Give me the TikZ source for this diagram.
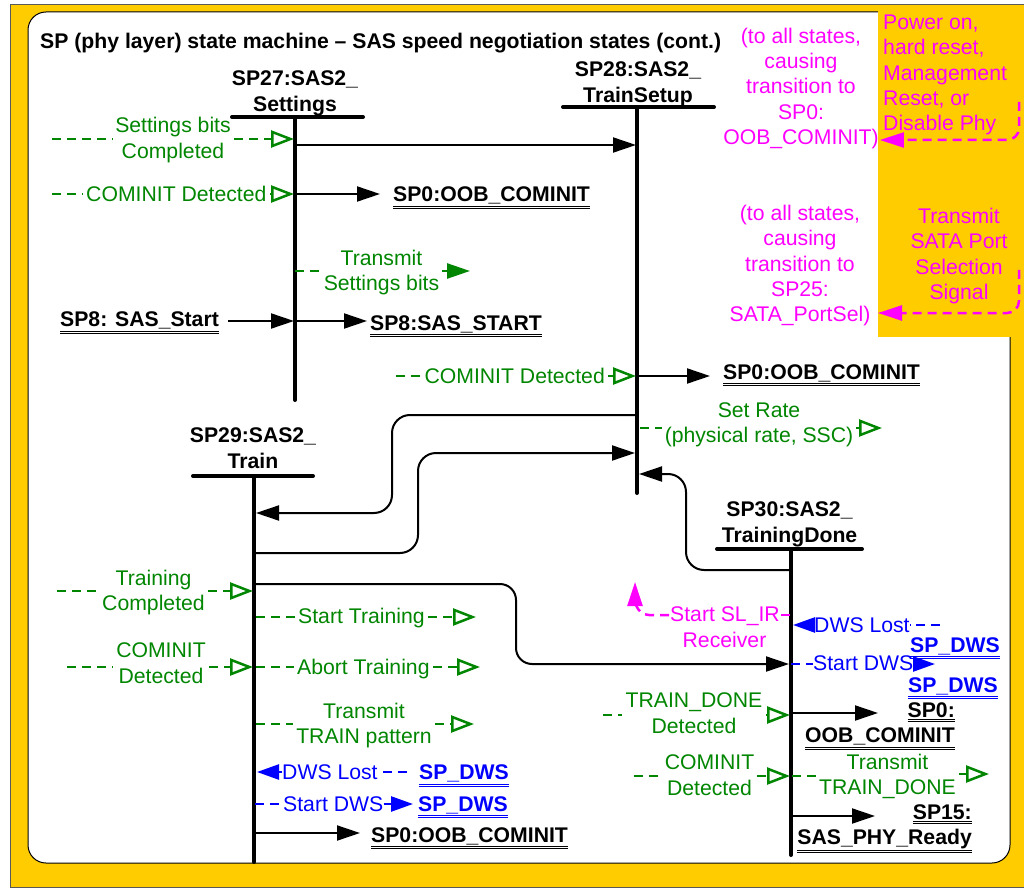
\documentclass[tikz,border=0pt]{standalone}
\usepackage{fontspec}
\setmainfont{Liberation Sans}
\usetikzlibrary{arrows.meta}
\definecolor{gold}{RGB}{255,204,0}
\definecolor{sgreen}{RGB}{0,134,0}
\definecolor{sblue}{RGB}{0,0,255}
\definecolor{smag}{RGB}{255,0,255}
\newcommand\fsz{\fontsize{21.2}{25.3}\selectfont}
\newcommand\dul[1]{\vtop{\hbox{#1}\kern1.4pt\hrule height1.1pt\kern1.1pt\hrule height0.9pt}}
\tikzset{
  every node/.style={font=\fsz, inner sep=0pt},
  lbl/.style={font=\fsz\bfseries, align=center},
  stref/.style={font=\fsz\bfseries},
  statebar/.style={line width=4pt, line cap=round},
  trans/.style={line width=2pt, -{Triangle[length=23pt,width=15pt]}},
  gtxt/.style={text=sgreen, align=center, inner xsep=3pt},
  btxt/.style={text=sblue, inner xsep=0pt},
  mtxt/.style={text=smag, align=center, inner xsep=1pt},
  dsh/.style={line width=2.5pt, dash pattern=on 9pt off 6pt},
  gdash/.style={dsh, sgreen},
  gopen/.style={gdash, -{Triangle[open, length=23pt, width=17pt, line width=2.5pt]}},
  gfill/.style={gdash, -{Triangle[length=23pt, width=15pt]}},
  bdash/.style={dsh, sblue},
  bfill/.style={bdash, -{Triangle[length=22pt, width=15pt]}},
  mdash/.style={dsh, smag},
  mfill/.style={mdash, -{Triangle[length=24pt, width=15pt]}},
}
\begin{document}
\begin{tikzpicture}[x=1pt,y=-1pt]
\useasboundingbox (0,0) rectangle (1024,890);
% frames
\fill[gold] (10,5) rectangle (1030,887);
\draw[gray!70!black, line width=1pt] (1030,5) -- (10,5) -- (10,887) -- (1030,887);
\filldraw[fill=white, draw=black, line width=1pt, rounded corners=18pt] (28,12) rectangle (1010,863);
\fill[gold] (878,6) rectangle (1024,337);
% title
\node[font=\fsz\bfseries, anchor=base west] (title) at (40,49) {SP (phy layer) state machine – SAS speed negotiation states (cont.)};
% states
\node[lbl] (s27) at (295,93.4) {SP27:SAS2\_\\Settings};
\coordinate (s27l) at (232,117); \coordinate (s27r) at (363,117);
\coordinate (s27t) at (295,117); \coordinate (s27b) at (295,400);
\draw[statebar] (s27l) -- (s27r); \draw[statebar] (s27t) -- (s27b);
\node[lbl] (s28) at (638,84.4) {SP28:SAS2\_\\TrainSetup};
\coordinate (s28l) at (563,107); \coordinate (s28r) at (714,107);
\coordinate (s28t) at (637,107); \coordinate (s28bt) at (637,493);
\draw[statebar] (s28l) -- (s28r); \draw[statebar] (s28t) -- (s28bt);
\node[lbl] (s29) at (253,448.2) {SP29:SAS2\_\\Train};
\coordinate (s29l) at (193,476); \coordinate (s29r) at (313,476);
\coordinate (s29t) at (254,476); \coordinate (s29bt) at (254,862);
\draw[statebar] (s29l) -- (s29r); \draw[statebar] (s29t) -- (s29bt);
\node[lbl] (s30) at (789.5,524.4) {SP30:SAS2\_\\TrainingDone};
\coordinate (s30l) at (717,549); \coordinate (s30r) at (862,549);
\coordinate (s30t) at (791,549); \coordinate (s30bt) at (791,855);
\draw[statebar] (s30l) -- (s30r); \draw[statebar] (s30t) -- (s30bt);
% ---- SP27 transitions
\node[gtxt] (t1) at (173,139.9) {Settings bits\\Completed};
\coordinate (t1s) at (52,139); \coordinate (s27a) at (294,139);
\draw[gdash] (t1s) -- (t1.west |- t1s);
\draw[gopen] (t1.east |- t1s) -- (s27a);
\coordinate (s27c) at (295,145); \coordinate (s28a) at (636,145);
\draw[trans] (s27c) -- (s28a);
\node[gtxt, anchor=base west] (t2) at (83,202) {COMINIT Detected};
\coordinate (t2s) at (52,194); \coordinate (s27d) at (294,194);
\draw[gdash] (t2s) -- (t2.west |- t2s);
\draw[gopen] (t2.east |- t2s) -- (s27d);
\node[stref, anchor=base west] (r1) at (393,202) {\dul{SP0:OOB\_COMINIT}};
\draw[trans, shorten >=13pt] (s27d) -- (r1.west |- s27d);
\node[gtxt] (t3) at (381.5,272.4) {Transmit\\Settings bits};
\coordinate (s27e) at (295,271); \coordinate (t3e) at (470,271);
\draw[gdash] (s27e) -- (t3.west |- s27e);
\draw[gfill] (t3.east |- s27e) -- (t3e);
\node[stref, anchor=base west] (r2) at (60,326.8) {\dul{SP8: SAS\_Start}};
\coordinate (s27f) at (294,321);
\draw[trans, shorten <=9pt] (r2.east |- s27f) -- (s27f);
\node[stref, anchor=base west] (r3) at (370,330) {\dul{SP8:SAS\_START}};
\draw[trans, shorten >=3pt] (s27f) -- (r3.west |- s27f);
% ---- SP28 transitions
\node[gtxt, anchor=base east] (t4) at (608,383) {COMINIT Detected};
\coordinate (t4s) at (396,376); \coordinate (s28b) at (636,376);
\draw[gdash] (t4s) -- (t4.west |- t4s);
\draw[gopen] (t4.east |- t4s) -- (s28b);
\node[stref, anchor=base west] (r4) at (723,379) {\dul{SP0:OOB\_COMINIT}};
\draw[trans, shorten >=13pt] (s28b) -- (r4.west |- s28b);
\node[gtxt] (t5) at (759,425.1) {Set Rate\\(physical rate, SSC)};
\coordinate (s28c) at (640,428); \coordinate (t5e) at (882,428);
\draw[gdash] (s28c) -- (t5.west |- s28c);
\draw[gopen] (t5.east |- s28c) -- (t5e);
% routed transitions
\coordinate (s28d) at (637,415); \coordinate (s29a) at (256,513);
\draw[trans, rounded corners=18pt] (s28d) -- (392,415) -- (392,513) -- (s29a);
\coordinate (s29b) at (254,553); \coordinate (s28e) at (635,453);
\draw[trans, rounded corners=18pt] (s29b) -- (418,553) -- (418,453) -- (s28e);
\coordinate (s30a) at (791,570); \coordinate (s28f) at (639,474);
\draw[trans, rounded corners=18pt] (s30a) -- (686,570) -- (686,474) -- (s28f);
\coordinate (s29c) at (254,584); \coordinate (s30b) at (789,664);
\draw[trans, rounded corners=16pt] (s29c) -- (516,584) -- (516,664) -- (s30b);
% ---- SP29 transitions
\node[gtxt] (t6) at (153.5,592.4) {Training\\Completed};
\coordinate (t6s) at (57,591); \coordinate (s29d) at (253,591);
\draw[gdash] (t6s) -- (t6.west |- t6s); \draw[gopen] (t6.east |- t6s) -- (s29d);
\node[gtxt, anchor=base west] (t7) at (295,623) {Start Training};
\coordinate (s29e) at (256,617); \coordinate (t7e) at (476,617);
\draw[gdash] (s29e) -- (t7.west |- s29e); \draw[gopen] (t7.east |- s29e) -- (t7e);
\node[gtxt] (t8) at (161,663.2) {COMINIT\\Detected};
\coordinate (t8s) at (67,667); \coordinate (s29f) at (253,667);
\draw[gdash] (t8s) -- (t8.west |- t8s); \draw[gopen] (t8.east |- t8s) -- (s29f);
\node[gtxt, anchor=base west] (t9) at (294,674) {Abort Training};
\coordinate (s29g) at (256,667); \coordinate (t9e) at (480,667);
\draw[gdash] (s29g) -- (t9.west |- s29g); \draw[gopen] (t9.east |- s29g) -- (t9e);
\node[gtxt] (t10) at (364,725.4) {Transmit\\TRAIN pattern};
\coordinate (s29h) at (256,724); \coordinate (t10e) at (474,724);
\draw[gdash] (s29h) -- (t10.west |- s29h); \draw[gopen] (t10.east |- s29h) -- (t10e);
\node[btxt, anchor=base west] (t11) at (282,779) {DWS Lost};
\node[stref, text=sblue, anchor=base west] (r5) at (419,779.6) {\dul{SP\_DWS}};
\coordinate (s29i) at (257,772);
\draw[bdash, shorten <=12pt] (r5.west |- s29i) -- (t11.east |- s29i);
\draw[bfill] (t11.west |- s29i) -- (s29i);
\node[btxt, anchor=base west] (t12) at (283,811) {Start DWS};
\node[stref, text=sblue, anchor=base west] (r6) at (418,811) {\dul{SP\_DWS}};
\coordinate (s29j) at (255,804);
\draw[bdash] (s29j) -- (t12.west |- s29j);
\draw[bfill, shorten >=5pt] (t12.east |- s29j) -- (r6.west |- s29j);
\node[stref, anchor=base west] (r7) at (371,842) {\dul{SP0:OOB\_COMINIT}};
\coordinate (s29k) at (254,833);
\draw[trans, shorten >=11pt] (s29k) -- (r7.west |- s29k);
% ---- SP30 transitions
\node[mtxt, anchor=base west] (t13) at (669,621) {Start SL\_IR};
\node[mtxt, anchor=base] (t13b) at (724.5,647) {Receiver};
\coordinate (s30c) at (790,615); \coordinate (mup) at (635,582);
\draw[mdash] (s30c) -- (t13.east |- s30c);
\draw[mfill] (t13.west |- s30c) -- (649,615) to[out=180,in=-90] (mup);
\node[btxt, anchor=base west] (t14) at (814,632) {DWS Lost};
\coordinate (s30d) at (793,625); \coordinate (b3e) at (940,625);
\draw[bdash] (b3e) -- (t14.east |- b3e);
\draw[bfill] (t14.west |- b3e) -- (s30d);
\node[stref, text=sblue, anchor=base west] (r8) at (910,652) {\dul{SP\_DWS}};
\node[btxt, anchor=base west] (t15) at (813,670) {Start DWS};
\coordinate (s30e) at (791,664); \coordinate (b4e) at (935,664);
\draw[bdash] (s30e) -- (t15.west |- s30e);
\draw[bfill] (t15.east |- s30e) -- (b4e);
\node[stref, text=sblue, anchor=base west] (r9) at (908,692) {\dul{SP\_DWS}};
\node[gtxt] (t16) at (694,713.2) {TRAIN\_DONE\\Detected};
\coordinate (t16s) at (603,715); \coordinate (s30f) at (790,715);
\draw[gdash] (t16s) -- (t16.west |- t16s); \draw[gopen] (t16.east |- t16s) -- (s30f);
\coordinate (s30g) at (791,713); \coordinate (r10a) at (878,713);
\draw[trans] (s30g) -- (r10a);
\node[stref, align=right, anchor=east] (r10) at (955,726.2) {\dul{SP0:}\\\dul{OOB\_COMINIT}};
\node[gtxt] (t17) at (709.5,775.2) {COMINIT\\Detected};
\coordinate (t17s) at (634,776); \coordinate (s30h) at (790,776);
\draw[gdash] (t17s) -- (t17.west |- t17s); \draw[gopen] (t17.east |- t17s) -- (s30h);
\node[gtxt] (t18) at (887.5,776.4) {Transmit\\TRAIN\_DONE};
\coordinate (s30i) at (792,776); \coordinate (t18e) at (989,774);
\draw[gdash] (s30i) -- (t18.west |- s30i); \draw[gopen] (t18.east |- t18e) -- (t18e);
\coordinate (s30j) at (791,816); \coordinate (r11a) at (875,816);
\draw[trans] (s30j) -- (r11a);
\node[stref, align=right, anchor=east] (r11) at (972,828.7) {\dul{SP15:}\\\dul{SAS\_PHY\_Ready}};
% ---- global notes
\node[mtxt] (n1) at (801,88.4) {(to all states,\\causing\\transition to\\SP0:\\OOB\_COMINIT)};
\node[mtxt, align=left, anchor=west] (n2) at (882,75.2) {Power on,\\hard reset,\\Management\\Reset, or\\Disable Phy};
\coordinate (m1s) at (1019,102); \coordinate (m1c) at (1019,140);
\draw[mfill, rounded corners=12pt] (m1s) -- (m1c) -- (n1.east |- m1c);
\node[mtxt] (n3) at (800,265.8) {(to all states,\\causing\\transition to\\SP25:\\SATA\_PortSel)};
\node[mtxt] (n4) at (959,255.9) {Transmit\\SATA Port\\Selection\\Signal};
\coordinate (m2s) at (1019,270); \coordinate (m2c) at (1019,313); \coordinate (m2e) at (878,313);
\draw[mfill, rounded corners=12pt] (m2s) -- (m2c) -- (m2e);
\end{tikzpicture}
\end{document}
